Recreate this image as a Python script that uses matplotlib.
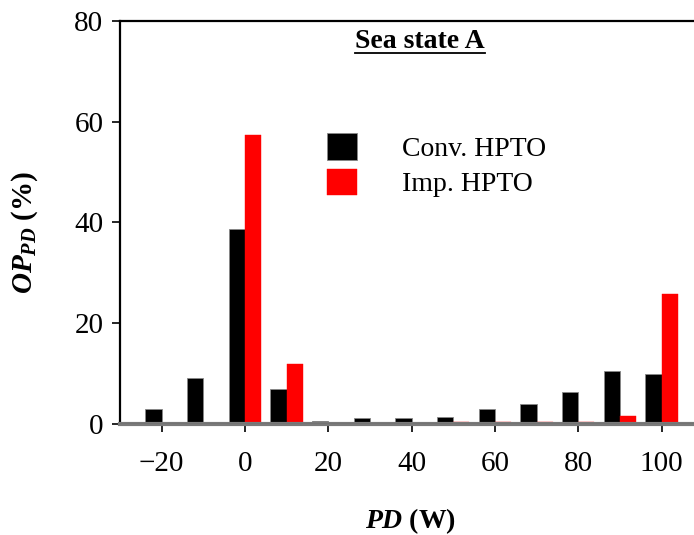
import matplotlib
matplotlib.use("Agg")
import matplotlib.pyplot as plt
import numpy as np
from matplotlib.lines import Line2D

plt.rcParams['font.family'] = 'Liberation Serif'
plt.rcParams['mathtext.fontset'] = 'custom'
plt.rcParams['mathtext.rm'] = 'Liberation Serif:bold'
plt.rcParams['mathtext.it'] = 'Liberation Serif:italic:bold'
plt.rcParams['mathtext.bf'] = 'Liberation Serif:bold'

# power bins (W) and occurrence probabilities (%)
pd_bins = [-20, -10, 0, 10, 20, 30, 40, 50, 60, 70, 80, 90, 100]
conv_hpto = [3.0, 9.0, 38.6, 6.8, 0.6, 1.05, 1.2, 1.4, 3.0, 3.9, 6.2, 10.4, 9.8]
imp_hpto = [0.0, 0.0, 57.4, 11.9, 0.0, 0.2, 0.0, 0.25, 0.25, 0.25, 0.3, 1.6, 25.7]
labels = ["Conv. HPTO", "Imp. HPTO"]
x_ticks = [-20, 0, 20, 40, 60, 80, 100]
y_ticks = [0, 20, 40, 60, 80]

fig = plt.figure(figsize=(6.94, 5.35), dpi=100)
ax = fig.add_axes([0.1729, 0.208, 0.8271, 0.753])

w = 3.9
ax.bar(pd_bins, conv_hpto, width=-w, align='edge', color='black',
       edgecolor='#888888', linewidth=0.6, label=labels[0], zorder=2)
ax.bar(pd_bins, imp_hpto, width=w, align='edge', color='#ff0000',
       edgecolor='#ff0000', linewidth=0.3, label=labels[1], zorder=2)

ax.set_xlim(-30, 107.8)
ax.set_ylim(0, 80)
ax.set_xticks(x_ticks)
ax.set_xticklabels(['\u221220' if t == -20 else str(t) for t in x_ticks])
ax.set_yticks(y_ticks)
ax.tick_params(axis='both', labelsize=21, direction='out', length=6, width=1.2)
ax.tick_params(axis='x', pad=14)
ax.tick_params(axis='y', pad=6)

ax.spines['right'].set_visible(False)
ax.spines['top'].set_linewidth(1.6)
ax.spines['left'].set_linewidth(1.6)
ax.spines['bottom'].set_color('#7a7a7a')
ax.spines['bottom'].set_linewidth(3)
ax.axhline(0, color='black', lw=0.8, zorder=3)

ax.set_ylabel(r'$OP_{PD}$ (%)', fontsize=21, fontweight='bold')
ax.yaxis.set_label_coords(-0.166, 0.476)
ax.yaxis.label.set_va('center')
ax.set_xlabel(r'$PD$ (W)', fontsize=20, fontweight='bold')
ax.xaxis.set_label_coords(0.507, -0.241)
ax.xaxis.label.set_va('center')

title = ax.text(0.523, 0.948, 'Sea state A', transform=ax.transAxes, ha='center',
                va='center', fontsize=20, fontweight='bold')

leg = ax.legend(loc='upper left', bbox_to_anchor=(0.36, 0.722), frameon=False,
                fontsize=20, handlelength=1.1, handleheight=1.1,
                handletextpad=1.6, labelspacing=0.25, borderaxespad=0,
                borderpad=0)

# underline the title
fig.canvas.draw()
bb = title.get_window_extent().transformed(fig.transFigure.inverted())
fig.add_artist(Line2D([bb.x0, bb.x1], [bb.y0 + 0.002, bb.y0 + 0.002],
                      transform=fig.transFigure, color='black', lw=1.3))

fig.savefig("out.png", dpi=100)
